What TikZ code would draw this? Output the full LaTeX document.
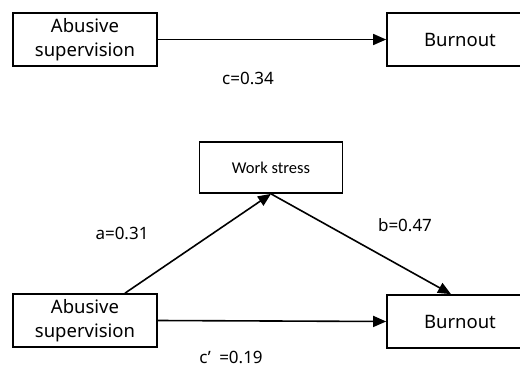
\documentclass[tikz,border=0pt]{standalone}
\usepackage{fontspec}
\setmainfont{Noto Sans}
\newfontfamily\lblfont{Carlito}
\usetikzlibrary{arrows.meta}
\begin{document}
\begin{tikzpicture}[x=1pt,y=-1pt,
  boxnode/.style={draw=black,line width=1.7pt,fill=white,inner sep=0pt,align=center,
    font=\fontsize{18.5}{24}\selectfont},
  lbl/.style={inner sep=0pt,font=\fontsize{17}{20}\selectfont},
  conn/.style={line width=1.6pt,-{Triangle[length=13pt,width=11pt]}}]
\useasboundingbox (0,0) rectangle (520,370);
\clip (0,0) rectangle (520,370);
% top model
\node[boxnode,minimum width=144pt,minimum height=53pt] (ab1) at (85,39.5) {Abusive\\supervision};
\node[boxnode,minimum width=146pt,minimum height=53pt] (bo1) at (460,39.5) {Burnout};
\draw[conn] (ab1.east) -- (bo1.west);
\node[lbl] (c) at (248,78) {c=0.34};
% bottom model
\node[boxnode,minimum width=143pt,minimum height=51pt,font=\lblfont\fontsize{16.5}{18}\selectfont] (ws) at (271,167.5) {Work stress};
\node[boxnode,minimum width=144pt,minimum height=53pt] (ab2) at (85,320.5) {Abusive\\supervision};
\node[boxnode,minimum width=146pt,minimum height=53pt] (bo2) at (460,321.5) {Burnout};
\coordinate (abtop) at ([xshift=40pt]ab2.north);
\coordinate (botop) at ([xshift=-9pt]bo2.north);
\draw[conn] (abtop) -- (ws.south);
\draw[conn] (ws.south) -- (botop);
\draw[conn] (ab2.east) -- (bo2.west);
\node[lbl] (a) at (122,233) {a=0.31};
\node[lbl] (b) at (405,225) {b=0.47};
\node[lbl] (cp) at (231,357) {c’\,\,\,=0.19};
\end{tikzpicture}
\end{document}
